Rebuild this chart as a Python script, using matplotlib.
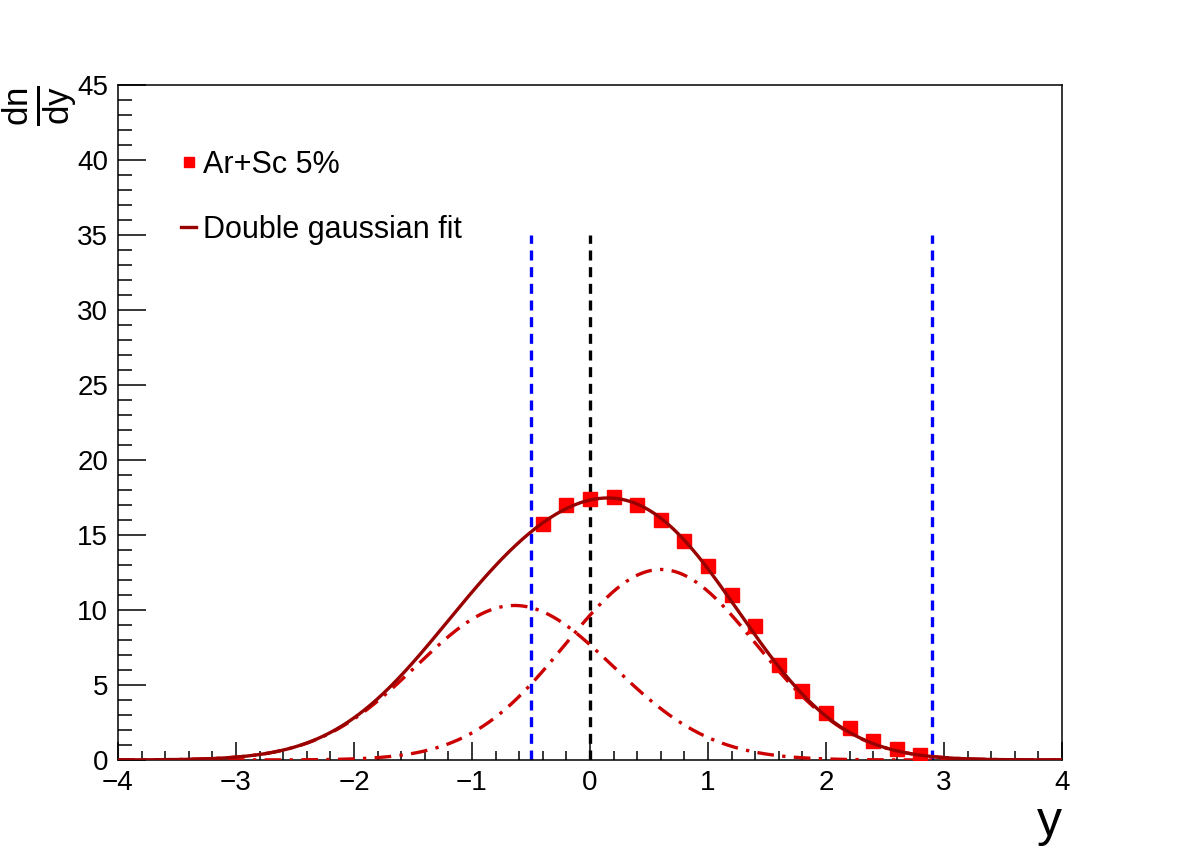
import numpy as np
import matplotlib
matplotlib.use("Agg")
import matplotlib.pyplot as plt
from matplotlib.ticker import MultipleLocator

plt.rcParams['font.family'] = ['Liberation Sans', 'DejaVu Sans']
plt.rcParams['mathtext.fontset'] = 'custom'
plt.rcParams['mathtext.rm'] = 'Liberation Sans'
plt.rcParams['mathtext.it'] = 'Liberation Sans'

# measured dn/dy points
y_data = [-0.4, -0.2, 0.0, 0.2, 0.4, 0.6, 0.8, 1.0, 1.2, 1.4,
          1.6, 1.8, 2.0, 2.2, 2.4, 2.6, 2.8]
dndy = [15.7, 17.0, 17.4, 17.5, 17.0, 16.0, 14.6, 12.95, 11.0, 8.9,
        6.3, 4.6, 3.15, 2.1, 1.25, 0.7, 0.35]

# fit components: amplitude, mean, sigma
g1 = [10.3, -0.64, 0.835]
g2 = [12.7, 0.60, 0.81]

# vertical reference lines
blue_lines = [-0.5, 2.9]
black_lines = [0.0]
line_top = 35

def gauss(x, p):
    return p[0] * np.exp(-(x - p[1])**2 / (2 * p[2]**2))

xs = np.linspace(-4, 4, 800)

fig = plt.figure(figsize=(11.82, 8.46), dpi=100)
ax = fig.add_axes([0.0998, 0.1017, 0.7987, 0.7978])

for xv in blue_lines:
    ax.plot([xv, xv], [0, line_top], color='#0000ff', lw=2.4, ls=(0, (3, 2)), zorder=2)
for xv in black_lines:
    ax.plot([xv, xv], [0, line_top], color='black', lw=2.4, ls=(0, (3, 2)), zorder=2)

ax.plot(xs, gauss(xs, g1), color='#cc0000', lw=2.4, ls=(0, (5, 2.5, 1, 2.5)), zorder=3)
ax.plot(xs, gauss(xs, g2), color='#cc0000', lw=2.4, ls=(0, (5, 2.5, 1, 2.5)), zorder=3)

ax.plot(y_data, dndy, ls='none', marker='s', ms=9.5, color='#ff0000',
        mec='#ff0000', zorder=4, label='Ar+Sc 5%')
ax.plot(xs, gauss(xs, g1) + gauss(xs, g2), color='#990000', lw=2.4, zorder=5,
        label='Double gaussian fit')

ax.set_xlim(-4, 4)
ax.set_ylim(0, 45)
ax.xaxis.set_major_locator(MultipleLocator(1))
ax.xaxis.set_minor_locator(MultipleLocator(0.2))
ax.yaxis.set_major_locator(MultipleLocator(5))
ax.yaxis.set_minor_locator(MultipleLocator(1))
ax.tick_params(axis='both', which='both', direction='in', labelsize=20,
               top=False, right=False, width=1.1)
ax.tick_params(axis='x', which='major', length=13, pad=7)
ax.tick_params(axis='x', which='minor', length=6.5)
ax.tick_params(axis='y', which='major', length=20, pad=7)
ax.tick_params(axis='y', which='minor', length=10)
for s in ax.spines.values():
    s.set_linewidth(1.1)

leg = ax.legend(loc='upper left', bbox_to_anchor=(0.054, 0.922), frameon=False,
                fontsize=22, handlelength=0.5, handletextpad=0.2,
                labelspacing=1.15, markerscale=0.75, borderaxespad=0)

fig.text(0.034, 0.875, r'$\frac{dn}{dy}$', rotation=90, fontsize=36,
         ha='center', va='center')
fig.text(0.888, 0.0, 'y', fontsize=36, ha='center', va='bottom')

fig.savefig('out.png', dpi=100)
